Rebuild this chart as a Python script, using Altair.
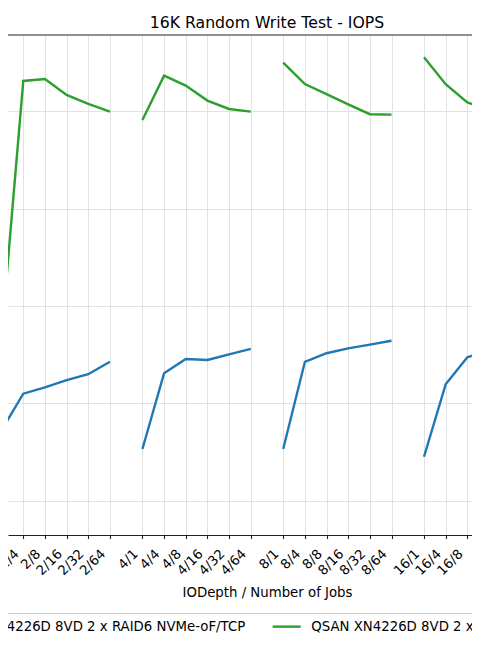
import json
import altair as alt
import pandas as pd

# ---- data ----
all_prefixes = ["1", "2", "4", "8", "16"]          # IODepth groups (group "1" lies off to the left)
jobs = ["1", "4", "8", "16", "32", "64"]            # number of jobs within a group

series_names = [
    "QSAN XN4226D 8VD 2 x RAID6 NVMe-oF/TCP",
    "QSAN XN4226D 8VD 2 x RAID6 NVMe-oF/RDMA",
]
series_colors = ["#1f77b4", "#2ca02c"]

# visible points: "iodepth/jobs"
point_labels = [
    "2/1", "2/4", "2/8", "2/16", "2/32", "2/64",
    "4/1", "4/4", "4/8", "4/16", "4/32", "4/64",
    "8/1", "8/4", "8/8", "8/16", "8/32", "8/64",
    "16/1", "16/4", "16/8", "16/16",
]
tcp_iops = [
    86300, 105000, 108300, 112000, 115000, 121400,
    76600, 115500, 122800, 122300, 125200, 128000,
    76600, 121400, 125800, 128300, 130200, 132200,
    72600, 109800, 123700, 127200,
]
rdma_iops = [
    135100, 265700, 266700, 258500, 253900, 249900,
    245600, 268400, 263300, 255600, 251300, 249900,
    275100, 264100, 258900, 253700, 248600, 248400,
    277900, 264000, 254700, 250900,
]
tick_groups = ["2", "4", "8", "16"]
y_grid_values = [50000, 100000, 150000, 200000, 250000]
chart_title = "16K Random Write Test - IOPS"

# ---- layout helpers ----
GROUP_STRIDE = 6.5


def position(label):
    p, j = label.split("/")
    return GROUP_STRIDE * all_prefixes.index(p) + jobs.index(j)


rows = []
for name, vals in zip(series_names, [tcp_iops, rdma_iops]):
    for lab, v in zip(point_labels, vals):
        rows.append({
            "series": name,
            "label": lab,
            "group": name + "|" + lab.split("/")[0],
            "pos": position(lab),
            "iops": v,
        })
df = pd.DataFrame(rows)

tick_labels = [f"{p}/{j}" for p in tick_groups for j in jobs]
tick_pos = [position(t) for t in tick_labels]
label_expr = (
    f"{json.dumps(tick_labels)}[indexof({json.dumps(tick_pos)}, datum.value)]"
)

FONT = "DejaVu Sans"
W, H = 464, 500

x_axis = alt.Axis(
    values=tick_pos,
    labelExpr=label_expr,
    title="IODepth / Number of Jobs",
    labelAngle=315,
    labelAlign="right",
    labelBaseline="middle",
    labelPadding=13,
    labelOffset=-7,
    labelOverlap=False,
    labelFlush=False,
    labelBound=False,
    labelFont=FONT,
    labelFontSize=13.3,
    labelColor="#000000",
    domainColor="#222222",
    domainWidth=1.1,
    tickColor="#222222",
    tickWidth=1.1,
    tickSize=3.5,
    grid=True,
    gridColor="#e2e2e2",
    gridWidth=1,
    titleFont=FONT,
    titleFontSize=13.3,
    titleFontWeight="normal",
    titleColor="#000000",
    titleX=259,
    titleY=61,
    titleAlign="center",
    titleBaseline="alphabetic",
)

y_axis = alt.Axis(
    values=y_grid_values,
    labels=False,
    ticks=False,
    domain=False,
    title=None,
    grid=True,
    gridColor="#e2e2e2",
    gridWidth=1,
)

legend = alt.Legend(
    orient="none",
    legendX=-101,
    legendY=578,
    direction="horizontal",
    gridAlign="none",
    title=None,
    symbolType="M-5,0H5",
    symbolSize=31.4,
    symbolStrokeWidth=2.4,
    labelFont=FONT,
    labelFontSize=13.3,
    labelColor="#000000",
    labelLimit=600,
    labelOffset=18,
    columnPadding=21,
    padding=7,
    strokeColor="#cccccc",
    fillColor="white",
    cornerRadius=3,
)

lines = alt.Chart(df).mark_line(strokeWidth=2.4, clip=True).encode(
    x=alt.X("pos:Q", scale=alt.Scale(domain=[6.794, 28.2156], nice=False, zero=False), axis=x_axis),
    y=alt.Y("iops:Q", scale=alt.Scale(domain=[32400, 289300], nice=False, zero=False), axis=y_axis),
    color=alt.Color("series:N", scale=alt.Scale(domain=series_names, range=series_colors), legend=legend),
    detail="group:N",
    order="pos:Q",
)

top_spine = alt.Chart(alt.Data(values=[{}])).mark_rule(color="#222222", strokeWidth=1.1).encode(
    x=alt.value(0), x2=alt.value(W), y=alt.value(0)
)

title_text = alt.Chart(alt.Data(values=[{}])).mark_text(
    font=FONT, fontSize=15.7, color="#000000", align="center", baseline="alphabetic"
).encode(x=alt.value(259), y=alt.value(-7), text=alt.value(chart_title))

chart = alt.layer(lines, top_spine, title_text).properties(
    width=W,
    height=H,
    padding={"left": 0, "top": 27, "right": 0, "bottom": 105},
    autosize=alt.AutoSizeParams(type="none"),
).configure_view(stroke=None)

chart.save("out.html", embed_options={"renderer": "svg", "actions": False})
